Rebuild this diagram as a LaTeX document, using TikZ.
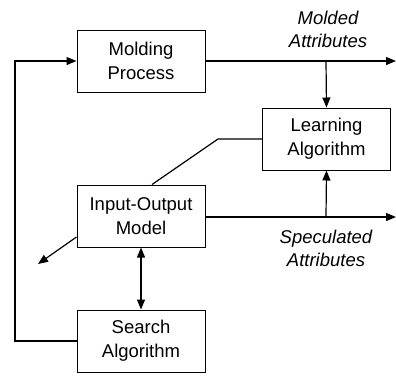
\documentclass[tikz,border=0pt]{standalone}
\usepackage{fontspec}
\setmainfont{Liberation Sans}
\usetikzlibrary{arrows.meta}
\begin{document}
\begin{tikzpicture}[x=1pt,y=-1pt,
  box/.style={draw,line width=1pt,minimum width=128pt,minimum height=62pt,
    align=center,font=\fontsize{18.5}{24}\selectfont,inner sep=0pt},
  lbl/.style={align=center,font=\fontsize{18.5}{23}\selectfont\itshape},
  wire/.style={line width=1.2pt},
  tip/.style={-{Triangle[length=10pt,width=8pt]}}]
\useasboundingbox (0,0) rectangle (396,375);
\node[box] (mold) at (141,61) {Molding\\Process};
\node[box] (learn) at (326.5,139) {Learning\\Algorithm};
\node[box] (io) at (141,216) {Input-Output\\Model};
\node[box] (search) at (141,341) {Search\\Algorithm};
\coordinate (moldout) at (396,61);
\coordinate (ioout) at (396,217);
\coordinate (jm) at (326,61);
\coordinate (ji) at (326,217);
\coordinate (bend) at (218,139);
\coordinate (free) at (38,264);
\coordinate (loopb) at (15,341);
\coordinate (loopt) at (15,61);
% outputs of the two upper blocks
\draw[wire,tip] (mold.east |- moldout) -- (moldout);
\draw[wire,tip] (jm) -- (learn.north);
\draw[wire,tip] (io.east |- ioout) -- (ioout);
\draw[wire,tip] (ji) -- (learn.south);
% learning algorithm updates the model
\draw[wire] (learn.west |- bend) -- (bend) -- (io.north -| 152,0);
% model to search and back
\draw[wire,{Triangle[length=10pt,width=8pt]}-{Triangle[length=10pt,width=8pt]}] (io.south) -- (search.north);
\draw[wire,tip] (io.west |- 0,237) -- (free);
% feedback loop
\draw[wire,tip] (search.west) -- (loopb) -- (loopt) -- (mold.west);
\node[lbl] (mlabel) at (328,29) {Molded\\Attributes};
\node[lbl] (slabel) at (326,248) {Speculated\\Attributes};
\end{tikzpicture}
\end{document}
